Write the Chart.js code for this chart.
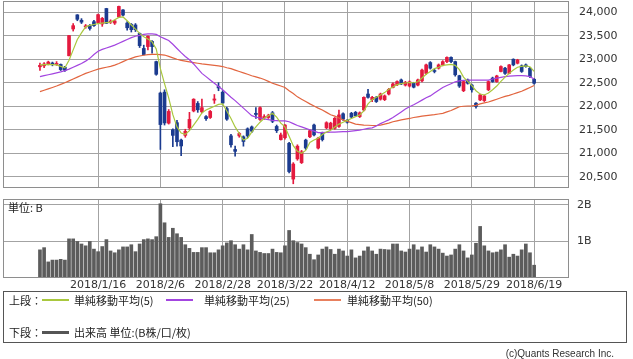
<!DOCTYPE html>
<html>
<head>
<meta charset="utf-8">
<script src="https://cdn.jsdelivr.net/npm/chart.js@4.4.1/dist/chart.umd.min.js"></script>
<style>
body { margin:0; background:#fff; width:633px; height:359px; overflow:hidden; position:relative;
       font-family:"Noto Sans CJK JP", "DejaVu Sans", sans-serif; color:#222; }
canvas { position:absolute; left:0; }
#grafPrecio { top:0; }
#grafVolumen { top:190px; }
.txt { position:absolute; font-size:11px; line-height:13px; white-space:nowrap; }
.linea { position:absolute; height:2px; width:27px; }
#leyenda { position:absolute; left:3px; top:291px; width:624px; height:52px; border:1px solid #555; box-sizing:border-box; }
</style>
</head>
<body>
<canvas id="grafPrecio" width="633" height="190"></canvas>
<canvas id="grafVolumen" width="633" height="102"></canvas>
<div class="txt" style="left:8px;top:201px;">単位: B</div>

<div id="leyenda">
  <div class="txt" style="left:5px;top:2px;">上段：</div>
  <div class="linea" style="left:38px;top:7px;background:#a9c83e;"></div>
  <div class="txt" style="left:70px;top:2px;">単純移動平均(5)</div>
  <div class="linea" style="left:162px;top:7px;background:#a345e0;"></div>
  <div class="txt" style="left:200px;top:2px;">単純移動平均(25)</div>
  <div class="linea" style="left:310px;top:7px;background:#e8805e;"></div>
  <div class="txt" style="left:343px;top:2px;">単純移動平均(50)</div>

  <div class="txt" style="left:5px;top:34px;">下段：</div>
  <div class="linea" style="left:38px;top:39px;height:3px;background:#555;"></div>
  <div class="txt" style="left:70px;top:34px;">出来高 単位:(B株/口/枚)</div>
</div>
<div class="txt" style="right:19px;top:347px;font-size:10px;font-family:'Liberation Sans';color:#333;">(c)Quants Research Inc.</div>

<script>
// Dias de negociacion (eje X)
var fechas = [
  '2017/12/21','2017/12/22','2017/12/25','2017/12/26','2017/12/27','2017/12/28','2017/12/29',
  '2018/1/4','2018/1/5','2018/1/9','2018/1/10','2018/1/11','2018/1/12','2018/1/15','2018/1/16','2018/1/17','2018/1/18','2018/1/19','2018/1/22','2018/1/23','2018/1/24','2018/1/25','2018/1/26','2018/1/29','2018/1/30','2018/1/31',
  '2018/2/1','2018/2/2','2018/2/5','2018/2/6','2018/2/7','2018/2/8','2018/2/9','2018/2/13','2018/2/14','2018/2/15','2018/2/16','2018/2/19','2018/2/20','2018/2/21','2018/2/22','2018/2/23','2018/2/26','2018/2/27','2018/2/28',
  '2018/3/1','2018/3/2','2018/3/5','2018/3/6','2018/3/7','2018/3/8','2018/3/9','2018/3/12','2018/3/13','2018/3/14','2018/3/15','2018/3/16','2018/3/19','2018/3/20','2018/3/22','2018/3/23','2018/3/26','2018/3/27','2018/3/28','2018/3/29','2018/3/30',
  '2018/4/2','2018/4/3','2018/4/4','2018/4/5','2018/4/6','2018/4/9','2018/4/10','2018/4/11','2018/4/12','2018/4/13','2018/4/16','2018/4/17','2018/4/18','2018/4/19','2018/4/20','2018/4/23','2018/4/24','2018/4/25','2018/4/26','2018/4/27',
  '2018/5/1','2018/5/2','2018/5/7','2018/5/8','2018/5/9','2018/5/10','2018/5/11','2018/5/14','2018/5/15','2018/5/16','2018/5/17','2018/5/18','2018/5/21','2018/5/22','2018/5/23','2018/5/24','2018/5/25','2018/5/28','2018/5/29','2018/5/30','2018/5/31',
  '2018/6/1','2018/6/4','2018/6/5','2018/6/6','2018/6/7','2018/6/8','2018/6/11','2018/6/12','2018/6/13','2018/6/14','2018/6/15','2018/6/18','2018/6/19'
];

// Velas: apertura, maximo, minimo, cierre
var apertura = [
  22840, 22860, 22900, 22920, 22890, 22890, 22830, 23075, 23645, 23945,
  23830, 23690, 23720, 23800, 23780, 23750, 24080, 23790, 23770, 23900,
  24050, 23770, 23740, 23730, 23550, 23230, 23270, 23380, 22950, 22280,
  22300, 21640, 21500, 21650, 21280, 21380, 21540, 21900, 22060, 21880,
  21780, 21760, 22130, 22420, 22300, 21950, 21370, 21080, 21370, 21350,
  21520, 21560, 21850, 21720, 21750, 21760, 21860, 21570, 21290, 21330,
  21210, 20450, 20880, 20800, 21280, 21350, 21600, 21110, 21430, 21540,
  21520, 21530, 21570, 21840, 21700, 21850, 21870, 21780, 21920, 22260,
  22140, 22190, 22150, 22140, 22260, 22400, 22455, 22560, 22450, 22430,
  22490, 22450, 22540, 22700, 22930, 22760, 22810, 22880, 22950, 23040,
  22950, 22650, 22330, 22560, 22450, 22065, 22135, 22120, 22350, 22600,
  22525, 22740, 22810, 22700, 23000, 22915, 22860, 22880, 22810, 22575
];
var maximo = [
  22920, 22930, 22960, 22940, 22950, 22900, 22850, 23510, 23760, 23950,
  23865, 23740, 23740, 23830, 23960, 23890, 24085, 23840, 23830, 24130,
  24060, 23800, 23760, 23760, 23560, 23300, 23500, 23400, 22960, 22300,
  22350, 21930, 21520, 21700, 21300, 21510, 21870, 22160, 22100, 22150,
  21800, 21910, 22250, 22500, 22330, 21980, 21400, 21150, 21440, 21370,
  21540, 21580, 21970, 21990, 21820, 21830, 21890, 21600, 21430, 21610,
  21230, 20800, 21180, 21060, 21300, 21500, 21620, 21340, 21450, 21670,
  21660, 21760, 21920, 21860, 21720, 21870, 21890, 21880, 22200, 22360,
  22210, 22210, 22280, 22240, 22380, 22500, 22540, 22580, 22530, 22540,
  22510, 22580, 22790, 22900, 22950, 22790, 22900, 22970, 23050, 23050,
  22960, 22660, 22540, 22580, 22470, 22080, 22260, 22240, 22540, 22620,
  22660, 22860, 22830, 22890, 23010, 23000, 22880, 22900, 22830, 22590
];
var minimo = [
  22760, 22820, 22880, 22860, 22870, 22760, 22740, 23070, 23600, 23820,
  23760, 23660, 23620, 23700, 23760, 23700, 23760, 23760, 23740, 23890,
  23920, 23620, 23580, 23590, 23250, 23090, 23200, 23130, 22660, 21080,
  21600, 21620, 21140, 21150, 20950, 21340, 21500, 21880, 21870, 21860,
  21700, 21740, 22060, 22330, 22050, 21700, 21130, 20940, 21340, 21150,
  21330, 21440, 21740, 21700, 21720, 21740, 21650, 21440, 21280, 21300,
  20580, 20350, 20850, 20780, 21080, 21330, 21370, 21090, 21260, 21520,
  21500, 21510, 21550, 21700, 21640, 21750, 21780, 21760, 21900, 22170,
  22100, 22080, 22130, 22120, 22240, 22390, 22440, 22460, 22430, 22410,
  22390, 22430, 22520, 22680, 22790, 22710, 22790, 22860, 22930, 22930,
  22640, 22400, 22310, 22470, 22300, 21960, 22120, 22100, 22330, 22510,
  22510, 22730, 22680, 22690, 22860, 22900, 22720, 22830, 22610, 22470
];
var cierre = [
  22870, 22900, 22940, 22890, 22910, 22780, 22765, 23505, 23715, 23850,
  23790, 23710, 23655, 23715, 23950, 23870, 23765, 23810, 23815, 24125,
  23940, 23670, 23630, 23630, 23290, 23100, 23490, 23270, 22680, 21610,
  21645, 21890, 21380, 21245, 21155, 21465, 21720, 22150, 21925, 21970,
  21735, 21890, 22155, 22390, 22070, 21725, 21180, 21040, 21420, 21250,
  21370, 21470, 21825, 21970, 21780, 21800, 21680, 21480, 21390, 21600,
  20610, 20770, 21150, 21030, 21110, 21480, 21390, 21320, 21290, 21650,
  21640, 21745, 21815, 21725, 21660, 21770, 21800, 21860, 22190, 22190,
  22190, 22100, 22260, 22220, 22360, 22475, 22525, 22475, 22510, 22520,
  22405, 22560, 22770, 22880, 22810, 22740, 22880, 22950, 23040, 22950,
  22670, 22430, 22525, 22490, 22350, 21995, 22240, 22220, 22525, 22525,
  22645, 22845, 22700, 22880, 22880, 22985, 22740, 22845, 22630, 22490
];

// Medias moviles
var media5 = [
  22880, 22885, 22890, 22885, 22880, 22850, 22820, 22980, 23200, 23420,
  23560, 23690, 23720, 23740, 23760, 23770, 23780, 23790, 23840, 23890,
  23900, 23820, 23730, 23640, 23550, 23480, 23430, 23370, 23220, 22800,
  22480, 22180, 21820, 21560, 21430, 21400, 21480, 21600, 21720, 21860,
  21920, 21960, 22000, 22040, 22050, 21900, 21740, 21560, 21420, 21280,
  21320, 21450, 21560, 21660, 21745, 21800, 21850, 21770, 21640, 21560,
  21360, 21160, 21040, 21000, 21060, 21230, 21280, 21320, 21400, 21450,
  21490, 21560, 21620, 21660, 21700, 21740, 21780, 21815, 21900, 22050,
  22140, 22190, 22240, 22290, 22360, 22410, 22460, 22480, 22495, 22505,
  22500, 22520, 22600, 22680, 22740, 22800, 22830, 22870, 22880, 22890,
  22870, 22780, 22620, 22530, 22440, 22330, 22260, 22240, 22280, 22350,
  22430, 22530, 22620, 22700, 22770, 22830, 22850, 22860, 22840, 22740
];
var media25 = [
  22630, 22650, 22670, 22690, 22710, 22730, 22757, 22790, 22830, 22870,
  22910, 22960, 23020, 23100, 23170, 23210, 23240, 23270, 23300, 23340,
  23380, 23420, 23460, 23490, 23510, 23530, 23540, 23540, 23530, 23480,
  23440, 23400, 23320, 23230, 23140, 23060, 22990, 22900, 22800, 22700,
  22630, 22560, 22490, 22420, 22350, 22270, 22190, 22120, 22040, 21960,
  21880, 21800, 21770, 21750, 21730, 21715, 21700, 21695, 21690, 21690,
  21670, 21630, 21590, 21560, 21530, 21500, 21470, 21440, 21440, 21445,
  21450, 21450, 21455, 21460, 21460, 21470, 21480, 21490, 21510, 21530,
  21540, 21580, 21630, 21670, 21710, 21760, 21820, 21880, 21940, 21990,
  22030, 22080, 22130, 22180, 22220, 22280, 22340, 22400, 22440, 22480,
  22520, 22540, 22550, 22555, 22555, 22555, 22555, 22555, 22555, 22580,
  22600, 22615, 22630, 22640, 22645, 22650, 22650, 22645, 22630, 22580
];
var media50 = [
  22310, 22340, 22370, 22400, 22430, 22465, 22500, 22540, 22580, 22620,
  22660, 22700, 22730, 22760, 22790, 22810, 22830, 22850, 22875, 22910,
  22950, 22990, 23020, 23050, 23070, 23085, 23100, 23105, 23106, 23100,
  23090, 23060, 23030, 23000, 22975, 22960, 22945, 22930, 22915, 22900,
  22890, 22880, 22870, 22860, 22845, 22820, 22800, 22770, 22740, 22710,
  22680, 22650, 22625, 22600, 22570, 22530, 22490, 22460, 22430, 22400,
  22330, 22270, 22200, 22150, 22100, 22050, 22005, 21960, 21920, 21870,
  21820, 21790, 21750, 21710, 21680, 21650, 21620, 21610, 21600, 21595,
  21590, 21590, 21600, 21620, 21640, 21670, 21690, 21710, 21725, 21740,
  21760, 21775, 21790, 21800, 21810, 21820, 21835, 21850, 21880, 21910,
  21950, 21990, 22000, 22005, 22006, 22020, 22050, 22070, 22090, 22120,
  22150, 22180, 22210, 22230, 22260, 22290, 22320, 22360, 22400, 22440
];

// Volumen (en B = mil millones)
var volumen = [
  0.77, 0.83, 0.44, 0.49, 0.49, 0.51, 0.49, 1.07, 1.07, 1.00,
  0.93, 0.88, 1.00, 0.79, 0.72, 0.86, 1.05, 0.74, 0.69, 0.77,
  0.85, 0.85, 0.91, 0.72, 0.93, 1.05, 1.07, 1.05, 1.13, 2.03,
  1.51, 1.11, 1.36, 1.21, 1.11, 0.91, 0.81, 0.70, 0.70, 0.83,
  0.83, 0.69, 0.69, 0.77, 0.88, 0.96, 1.02, 0.91, 0.79, 0.91,
  0.77, 1.19, 0.74, 0.70, 0.67, 0.67, 0.79, 0.70, 0.69, 0.88,
  1.30, 1.02, 0.97, 0.93, 0.83, 0.65, 0.50, 0.63, 0.79, 0.85,
  0.78, 0.65, 0.79, 0.74, 0.60, 0.77, 0.55, 0.60, 0.74, 0.85,
  0.74, 0.65, 0.79, 0.78, 0.77, 0.93, 0.93, 0.74, 0.71, 0.79,
  0.91, 0.77, 0.85, 0.71, 0.91, 0.85, 0.79, 0.68, 0.60, 0.63,
  0.79, 0.91, 0.74, 0.55, 0.63, 0.95, 1.41, 0.88, 0.74, 0.69,
  0.71, 0.77, 0.91, 0.57, 0.65, 0.60, 0.77, 0.93, 0.69, 0.35
];

// Etiquetas de los ejes
var etiquetasFecha = ['2018/1/16', '2018/2/6', '2018/2/28', '2018/3/22', '2018/4/12', '2018/5/8', '2018/5/29', '2018/6/19'];
var ticksPrecio = [20500, 21000, 21500, 22000, 22500, 23000, 23500, 24000];
var ticksVolumen = [1, 2];

var ROJO = '#e41a3e';
var AZUL = '#1b3b8f';
var GRIS = '#a3a3a3';
var fuenteNum = { family: 'DejaVu Sans', size: 11 };

var posiciones = etiquetasFecha.map(function (f) { return fechas.indexOf(f); });
var colores = cierre.map(function (c, i) { return c >= apertura[i] ? ROJO : AZUL; });

function serie(arr) {
    return arr.map(function (v, i) { return { x: i, y: v }; });
}
function conComa(v) {
    return String(v).replace(/\B(?=(\d{3})+(?!\d))/g, ',');
}
// Quita el relleno que Chart.js reserva para las etiquetas de los extremos
function sinRelleno(eje) {
    eje.paddingTop = 0;
    eje.paddingBottom = 0;
    eje.paddingLeft = 0;
    eje.paddingRight = 0;
}

// Marco gris alrededor del area del grafico
var marco = {
    id: 'marco',
    afterDraw: function (chart) {
        var a = chart.chartArea, ctx = chart.ctx;
        ctx.save();
        ctx.strokeStyle = '#8e8e8e';
        ctx.lineWidth = 1;
        ctx.strokeRect(a.left + 0.5, a.top + 0.5, a.right - a.left - 1, a.bottom - a.top - 1);
        ctx.restore();
    }
};

function ejeX(conTexto) {
    return {
        type: 'linear',
        min: -8.9,
        max: 127.4,
        offset: false,
        afterBuildTicks: function (eje) {
            eje.ticks = posiciones.map(function (p) { return { value: p }; });
        },
        afterFit: function (eje) {
            eje.height = conTexto ? 14 : 0;
            sinRelleno(eje);
        },
        grid: { color: GRIS, drawTicks: false, offset: false },
        border: { display: false },
        ticks: {
            display: conTexto, autoSkip: false, maxRotation: 0, padding: 1,
            color: '#333', font: fuenteNum,
            callback: function (v) { return fechas[v]; }
        }
    };
}

// Grafico de precios (velas + medias)
new Chart(document.getElementById('grafPrecio').getContext('2d'), {
    type: 'bar',
    data: {
        datasets: [
            { type: 'line', data: serie(media5), borderColor: '#a9c83e', borderWidth: 1.2, pointRadius: 0, order: 1 },
            { type: 'line', data: serie(media25), borderColor: '#a345e0', borderWidth: 1.2, pointRadius: 0, order: 2 },
            { type: 'line', data: serie(media50), borderColor: '#e2653f', borderWidth: 1.2, pointRadius: 0, order: 3 },
            {
                data: fechas.map(function (f, i) { return { x: i, y: [apertura[i], cierre[i]] }; }),
                backgroundColor: colores, barThickness: 3, minBarLength: 1, grouped: false, order: 4
            },
            {
                data: fechas.map(function (f, i) { return { x: i, y: [minimo[i], maximo[i]] }; }),
                backgroundColor: colores, barThickness: 1, grouped: false, order: 5
            }
        ]
    },
    options: {
        responsive: false,
        animation: false,
        layout: { padding: { left: 3, top: 1, right: 0, bottom: 2 } },
        plugins: { legend: { display: false }, tooltip: { enabled: false } },
        scales: {
            x: ejeX(false),
            y: {
                position: 'right',
                min: 20260,
                max: 24240,
                afterBuildTicks: function (eje) {
                    eje.ticks = ticksPrecio.map(function (v) { return { value: v }; });
                },
                afterFit: function (eje) {
                    eje.width = 64;
                    sinRelleno(eje);
                },
                grid: { color: GRIS, drawTicks: false },
                border: { display: false },
                ticks: { padding: 10, color: '#333', font: fuenteNum, callback: function (v) { return conComa(v); } }
            }
        }
    },
    plugins: [marco]
});

// Grafico de volumen
new Chart(document.getElementById('grafVolumen').getContext('2d'), {
    type: 'bar',
    data: {
        datasets: [{
            data: serie(volumen),
            backgroundColor: '#5c5c5c',
            barThickness: 3
        }]
    },
    options: {
        responsive: false,
        animation: false,
        layout: { padding: { left: 3, top: 9, right: 0, bottom: 0 } },
        plugins: { legend: { display: false }, tooltip: { enabled: false } },
        scales: {
            x: ejeX(true),
            y: {
                position: 'right',
                min: 0,
                max: 2.16,
                afterBuildTicks: function (eje) {
                    eje.ticks = ticksVolumen.map(function (v) { return { value: v }; });
                },
                afterFit: function (eje) {
                    eje.width = 64;
                    sinRelleno(eje);
                },
                grid: { color: GRIS, drawTicks: false },
                border: { display: false },
                ticks: { padding: 8, color: '#333', font: fuenteNum, callback: function (v) { return v + 'B'; } }
            }
        }
    },
    plugins: [marco]
});
</script>
</body>
</html>
